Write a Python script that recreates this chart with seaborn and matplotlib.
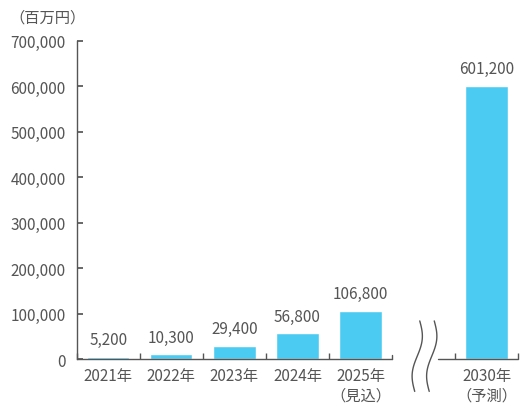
import numpy as np
import pandas as pd
import seaborn as sns
import matplotlib
matplotlib.use('Agg')
import matplotlib.pyplot as plt
from matplotlib.ticker import FuncFormatter, FixedLocator

# data
years = ['2021年', '2022年', '2023年', '2024年', '2025年\n（見込）', 'gap', '2030年\n（予測）']
values = [5200, 10300, 29400, 56800, 106800, np.nan, 601200]
unit_label = '（百万円）'

bar_color = '#4ccbf2'
text_color = '#555555'

sns.set_theme(style='white')
plt.rcParams['font.family'] = ['Noto Sans CJK JP', 'DejaVu Sans']

df = pd.DataFrame({'year': years, 'value': values}).dropna()

fig, ax = plt.subplots(figsize=(5.26, 4.06), dpi=100)
fig.subplots_adjust(left=0.146, right=0.985, bottom=0.113, top=0.897)

sns.barplot(data=df, x='year', y='value', order=years, color=bar_color,
            saturation=1, width=0.67, ax=ax)

for c in ax.containers:
    ax.bar_label(c, labels=[f'{v:,.0f}' for v in c.datavalues], padding=6,
                 fontsize=11, color=text_color)

ax.set_ylim(0, 700000)
ax.set_xlim(-0.5, len(years) - 0.5)
ax.set_yticks(range(0, 700001, 100000))
ax.yaxis.set_major_formatter(FuncFormatter(lambda v, p: f'{v:,.0f}'))
ax.set_xticks(range(len(years)))
ax.set_xticklabels([y if y != 'gap' else '' for y in years])
ax.xaxis.set_minor_locator(FixedLocator([i + 0.5 for i in range(-1, len(years))
                                         if i not in (4,)]))
ax.set_xlabel('')
ax.set_ylabel('')

ax.tick_params(axis='x', which='major', length=0, pad=6, labelsize=11, labelcolor=text_color)
ax.tick_params(axis='x', which='minor', direction='in', length=4, color=text_color, bottom=True)
ax.tick_params(axis='y', direction='in', length=4, color=text_color, left=True,
               labelsize=11, labelcolor=text_color, pad=8)
for lbl in ax.get_xticklabels():
    lbl.set_linespacing(1.15)

for s in ['top', 'right', 'bottom']:
    ax.spines[s].set_visible(False)
ax.spines['left'].set_color(text_color)
ax.spines['left'].set_linewidth(1)

# broken x axis
ax.plot([-0.5, 4.5], [0, 0], color=text_color, lw=1, clip_on=False)
ax.plot([5.23, 6.5], [0, 0], color=text_color, lw=1, clip_on=False)
ax.plot([4.5, 4.5], [0, 9000], color=text_color, lw=1, clip_on=False)

# wavy break marks
t = np.linspace(0, 1, 100)
yy = 84000 - t * 155000
for xc in (4.9, 5.13):
    ax.plot(xc + 0.06 * np.sin(t * 2 * np.pi) - 0.08 * (t - 0.5), yy,
            color=text_color, lw=1, clip_on=False)

fig.text(0.018, 0.955, unit_label, fontsize=11, color=text_color, va='center')

plt.savefig('out.png', dpi=100)
